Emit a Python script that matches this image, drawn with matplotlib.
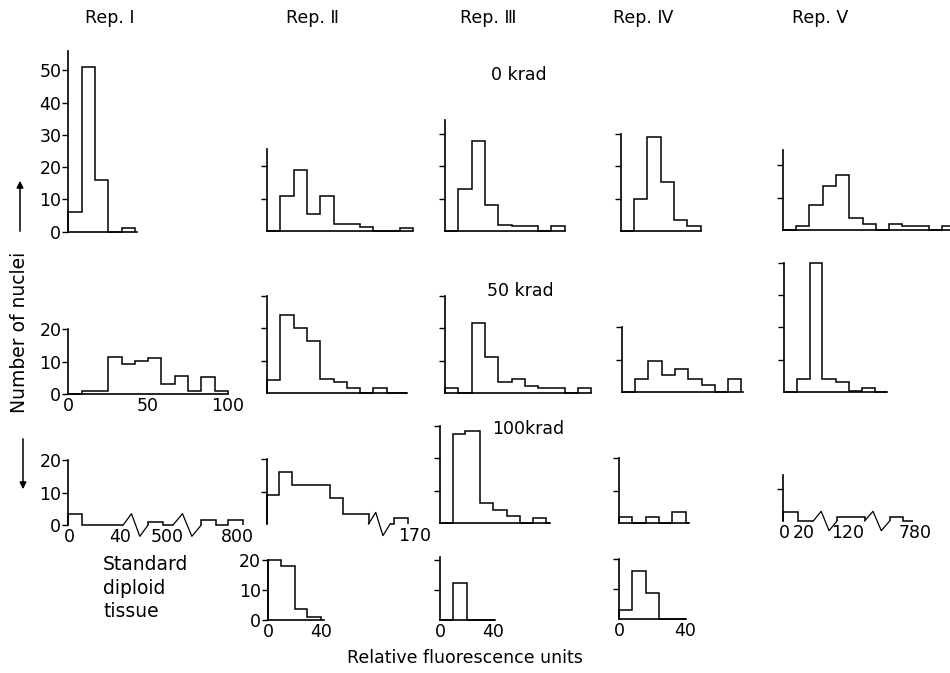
import matplotlib
matplotlib.use("Agg")
import matplotlib.pyplot as plt

plt.rcParams['font.family'] = ['DejaVu Sans', 'Noto Sans CJK JP']

W, H = 950, 673
BIN = 13.3        # px per fluorescence class
UNIT = 3.23       # px per nucleus (upper three rows)
UNIT_LOW = 3.0    # px per nucleus (standard tissue row)

# ---------------- counts per class ----------------
# 0 krad
rep1_0 = [6, 51, 16, 0, 1.2]
rep2_0 = [0, 10.8, 18.9, 5.2, 10.8, 2.1, 2.1, 1.2, 0, 0, 1.0]
rep3_0 = [0, 13, 28, 8, 2, 1.5, 1.5, 0, 1.5]
rep4_0 = [0, 10, 29, 15.3, 3.4, 1.6]
rep5_0 = [0, 1.3, 7.6, 13.7, 17, 3.8, 2, 0, 1.9, 1.2, 1.2, 0, 1.2, 1.2]

# 50 krad
rep1_50 = [0, 0.8, 0.8, 11.5, 9.3, 10.3, 11.3, 3.2, 5.5, 0.9, 5.3, 0.9]
rep2_50 = [4, 24.2, 20, 16, 4.2, 3.3, 1.6, 0, 1.6, 0]
rep2_50_edges = [0, 1, 2, 3, 4, 5, 6, 7, 8, 9, 10.5]
rep3_50 = [1.4, 0, 21.6, 11, 3.5, 4.3, 2.1, 1.4, 1.4, 0, 1.4]
rep4_50 = [0, 4.1, 9.5, 5.3, 7.2, 4.1, 2.1, 0, 4.1]
rep5_50 = [0, 4, 40, 4, 3, 0.3, 1.3, 0]
rep5_50_edges = [0, 0.95, 1.9, 2.8, 3.9, 4.9, 5.85, 6.85, 7.7]

# 100 krad (broken axes: class positions on each side of a break)
rep1_100_a, rep1_100_a_edges = [3.3, 0], [0, 1, 4.125]
rep1_100_b, rep1_100_b_edges = [1, 0], [6.0, 7.125, 7.875]
rep1_100_c, rep1_100_c_edges = [1.5, 0, 1.5], [10, 11.125, 12, 13.125]
rep1_100_breaks = [(4.125, 6.0), (7.875, 10.0)]

rep2_100_a, rep2_100_a_edges = [9, 16, 12, 8, 3], [0, 1, 2, 5, 6, 8]
rep2_100_b, rep2_100_b_edges = [0, 2], [9.7, 10, 11.1]
rep2_100_breaks = [(8, 9.7)]

rep3_100 = [0, 27.5, 28.5, 6.2, 4.1, 2.3, 0, 1.5, 0]
rep3_100_edges = [0, 1, 1.9, 3, 4, 5, 6, 7, 8, 8.3]
rep4_100 = [1.8, 0, 2, 0, 3.4, 0]
rep4_100_edges = [0, 1, 2, 3, 4, 5, 5.3]

rep5_100_a, rep5_100_a_edges = [2.9, 0], [0, 1.15, 2.3]
rep5_100_b, rep5_100_b_edges = [1.1], [4.1, 6.2]
rep5_100_c, rep5_100_c_edges = [1.1, 0], [8.1, 9.1, 9.9]
rep5_100_breaks = [(2.3, 4.1), (6.2, 8.1)]

# standard diploid tissue
rep2_std, rep2_std_edges = [20, 18, 3.6, 1.1], [0, 0.95, 2.0, 2.9, 4.0]
rep3_std, rep3_std_edges = [0, 12.4, 0], [0, 1, 2, 4.1]
rep4_std, rep4_std_edges = [3, 16, 8.6, 0], [0, 1, 2, 3, 5]

col_titles = ['Rep. Ⅰ', 'Rep. Ⅱ', 'Rep. Ⅲ', 'Rep. Ⅳ', 'Rep. Ⅴ']
dose_labels = ['0 krad', '50 krad', '100krad']

LW = 1.1
FS = 12.5

fig = plt.figure(figsize=(W / 100, H / 100), dpi=100)

bg = fig.add_axes([0, 0, 1, 1])
bg.set_xlim(0, W)
bg.set_ylim(H, 0)
bg.axis('off')


def panel(left, base, xspan, ytop, yticks, ylabels=False, unit=UNIT, spine=True):
    ax = fig.add_axes([left / W, 1 - base / H, xspan * BIN / W, ytop * unit / H])
    ax.set_xlim(0, xspan)
    ax.set_ylim(0, ytop)
    ax.patch.set_visible(False)
    for s in ['top', 'right']:
        ax.spines[s].set_visible(False)
    ax.spines['left'].set_linewidth(1.2)
    ax.spines['bottom'].set_linewidth(1.2)
    ax.spines['bottom'].set_visible(spine)
    ax.set_yticks(yticks)
    ax.tick_params(axis='y', direction='out', length=4, width=1, pad=1, labelsize=FS)
    if not ylabels:
        ax.set_yticklabels([])
    ax.tick_params(axis='x', length=0, pad=2, labelsize=FS)
    ax.set_xticks([])
    return ax


def hist(ax, counts, edges=None):
    if edges is None:
        edges = list(range(len(counts) + 1))
    ax.stairs(counts, edges, baseline=0, color='k', lw=LW, clip_on=False)


def zigzag(ax, a, b, h=3.5):
    w = b - a
    ax.plot([a, a + w / 3, a + 2 * w / 3, b], [0, h, -h, 0],
            color='k', lw=0.9, clip_on=False)


# ---------------- Rep. I ----------------
ax = panel(68.3, 231.7, 5.2, 56, [0, 10, 20, 30, 40, 50], ylabels=True)
hist(ax, rep1_0)

ax = panel(68.3, 394, 12, 20, [0, 10, 20], ylabels=True)
hist(ax, rep1_50)
ax.set_xticks([0, 6, 12], ['0', '50', '100'])

ax = panel(68.3, 525, 13.2, 20, [0, 10, 20], ylabels=True, spine=False)
hist(ax, rep1_100_a, rep1_100_a_edges)
hist(ax, rep1_100_b, rep1_100_b_edges)
hist(ax, rep1_100_c, rep1_100_c_edges)
for a, b in rep1_100_breaks:
    zigzag(ax, a, b)
ax.set_xticks([0.1, 3.9, 7.4, 12.7], ['0', '40', '500', '800'])

# ---------------- Rep. II ----------------
ax = panel(267, 231, 11, 25.5, [10, 20])
hist(ax, rep2_0)

ax = panel(267, 393, 10.5, 30, [10, 20, 30])
hist(ax, rep2_50, rep2_50_edges)

ax = panel(266.7, 524, 11.1, 20, [10, 20], spine=False)
hist(ax, rep2_100_a, rep2_100_a_edges)
hist(ax, rep2_100_b, rep2_100_b_edges)
for a, b in rep2_100_breaks:
    zigzag(ax, a, b, 3.6)
ax.set_xticks([11.6], ['170'])

ax = panel(268, 620, 4.2, 20, [0, 10, 20], ylabels=True, unit=UNIT_LOW)
hist(ax, rep2_std, rep2_std_edges)
ax.set_xticks([0, 4], ['0', '40'])

# ---------------- Rep. III ----------------
ax = panel(445, 231, 9, 34.5, [10, 20, 30])
hist(ax, rep3_0)

ax = panel(445, 393, 11, 30, [10, 20, 30])
hist(ax, rep3_50)

ax = panel(440, 523, 8.3, 30, [10, 20, 30])
hist(ax, rep3_100, rep3_100_edges)

ax = panel(440, 620, 4.1, 21, [10, 20], unit=UNIT_LOW)
hist(ax, rep3_std, rep3_std_edges)
ax.set_xticks([0, 4], ['0', '40'])

# ---------------- Rep. IV ----------------
ax = panel(620.7, 231, 6, 30, [10, 20, 30])
hist(ax, rep4_0)

ax = panel(621.7, 392, 9.1, 20, [10, 20])
hist(ax, rep4_50)

ax = panel(619, 523, 5.3, 20, [10, 20])
hist(ax, rep4_100, rep4_100_edges)

ax = panel(619, 619, 5, 20, [10, 20], unit=UNIT_LOW)
hist(ax, rep4_std, rep4_std_edges)
ax.set_xticks([0, 5], ['0', '40'])

# ---------------- Rep. V ----------------
ax = panel(782.7, 230, 14, 24.7, [10, 20])
hist(ax, rep5_0)

ax = panel(784.3, 392, 7.7, 40, [10, 20, 30, 40])
hist(ax, rep5_50, rep5_50_edges)

ax = panel(783, 521, 9.9, 14.3, [10], spine=False)
hist(ax, rep5_100_a, rep5_100_a_edges)
hist(ax, rep5_100_b, rep5_100_b_edges)
hist(ax, rep5_100_c, rep5_100_c_edges)
for a, b in rep5_100_breaks:
    zigzag(ax, a, b, 3.0)
ax.set_xticks([0.1, 1.6, 4.9, 10.0], ['0', '20', '120', '780'])

# ---------------- texts ----------------
for x, t in zip([110, 312, 488, 643, 820], col_titles):
    bg.text(x, 18, t, ha='center', va='center', fontsize=12.5)

for (x, y), t in zip([(519, 75), (520, 291), (528, 429)], dose_labels):
    bg.text(x, y, t, ha='center', va='center', fontsize=12.5)

bg.text(20, 332, 'Number of nuclei', rotation=90, ha='center', va='center', fontsize=13.5)
bg.annotate('', xy=(20, 178), xytext=(20, 234),
            arrowprops=dict(arrowstyle='-|>', color='k', lw=1.1, mutation_scale=10))
bg.annotate('', xy=(23, 492), xytext=(23, 436),
            arrowprops=dict(arrowstyle='-|>', color='k', lw=1.1, mutation_scale=10))

bg.text(103, 588, 'Standard\ndiploid\ntissue', ha='left', va='center',
        fontsize=13.5, linespacing=1.3)
bg.text(465, 658, 'Relative fluorescence units', ha='center', va='center', fontsize=12.5)

fig.savefig('out.png', dpi=100)
